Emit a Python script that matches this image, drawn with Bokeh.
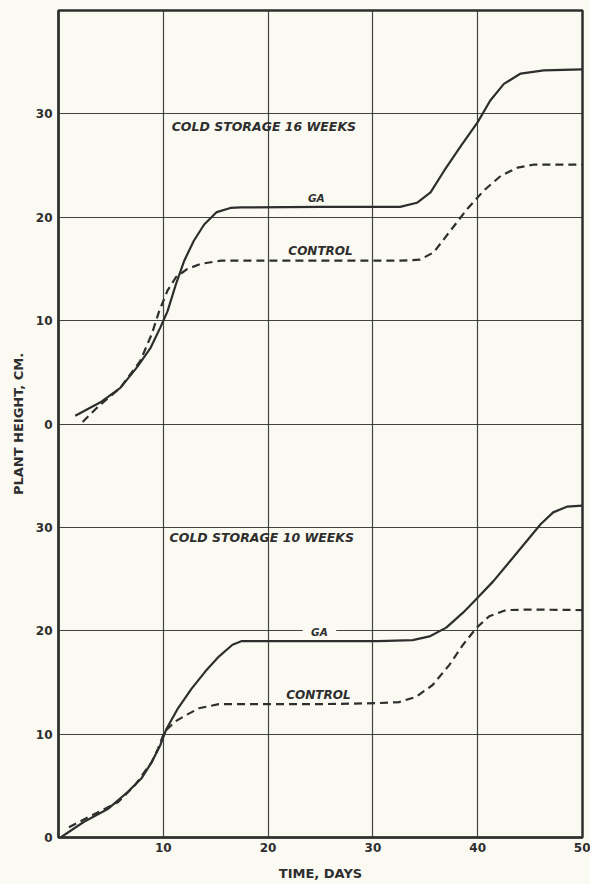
from bokeh.plotting import figure
from bokeh.models import Range1d, FixedTicker
from bokeh.core.properties import value
from bokeh.embed import file_html
from bokeh.resources import INLINE

# ---- data ----
# Upper panel: cold storage 16 weeks
ga16_days = [1.6, 4.0, 5.9, 7.5, 8.8, 9.7, 10.4, 11.2, 12.0, 12.9, 13.9, 15.1, 16.4, 17.4, 25.0, 32.6, 34.2, 35.5, 36.8, 38.4, 40.0, 41.2, 42.5, 44.1, 46.3, 50.0]
ga16_height = [0.8, 2.1, 3.5, 5.5, 7.4, 9.3, 10.9, 13.5, 15.8, 17.7, 19.3, 20.5, 20.9, 20.95, 21.0, 21.0, 21.4, 22.4, 24.5, 26.9, 29.2, 31.3, 32.9, 33.9, 34.2, 34.3]
ctl16_days = [2.3, 3.7, 5.9, 7.8, 8.9, 9.6, 10.4, 11.2, 12.3, 13.6, 15.5, 16.9, 25.0, 32.6, 34.5, 35.8, 37.4, 39.0, 40.6, 42.2, 43.8, 45.4, 50.0]
ctl16_height = [0.2, 1.6, 3.5, 6.1, 8.7, 10.9, 12.9, 14.2, 15.0, 15.5, 15.8, 15.8, 15.8, 15.8, 15.9, 16.6, 18.7, 20.8, 22.6, 24.0, 24.8, 25.1, 25.1]

# Lower panel: cold storage 10 weeks
ga10_days = [0.2, 2.4, 4.7, 6.6, 7.9, 8.9, 9.7, 10.3, 11.4, 12.7, 14.0, 15.3, 16.6, 17.5, 18.5, 25.0, 30.5, 33.8, 35.4, 37.0, 38.6, 39.9, 41.5, 43.1, 44.7, 46.0, 47.2, 48.5, 50.0]
ga10_height = [0.0, 1.5, 2.75, 4.4, 5.7, 7.3, 8.9, 10.5, 12.5, 14.4, 16.05, 17.5, 18.65, 19.0, 19.0, 19.0, 19.0, 19.1, 19.45, 20.3, 21.75, 23.1, 24.8, 26.75, 28.7, 30.3, 31.45, 32.0, 32.1]
ctl10_days = [1.0, 3.1, 5.65, 7.25, 8.9, 9.5, 10.1, 11.1, 12.1, 13.4, 15.3, 18.5, 25.0, 30.5, 32.5, 34.1, 35.7, 37.3, 38.6, 39.9, 41.1, 42.7, 45.0, 50.0]
ctl10_height = [1.0, 2.1, 3.4, 5.0, 7.3, 8.6, 10.2, 11.2, 11.8, 12.5, 12.9, 12.9, 12.9, 13.0, 13.1, 13.6, 14.75, 16.7, 18.65, 20.3, 21.4, 22.0, 22.05, 22.0]

x_ticks = [10, 20, 30, 40, 50]
panel_ticks = [0, 10, 20, 30]

upper_title = "COLD STORAGE 16 WEEKS"
lower_title = "COLD STORAGE 10 WEEKS"
series_names = ["GA", "CONTROL"]

# ---- styling ----
PAPER = "#fbfaf2"
INK = "#2e2e2e"
FONT = "DejaVu Sans"

p = figure(width=590, height=884, output_backend="svg", toolbar_location=None,
           x_range=Range1d(0, 50), y_range=Range1d(0, 80),
           min_border_left=58, min_border_right=8, min_border_top=10, min_border_bottom=47,
           background_fill_color=PAPER, border_fill_color=PAPER)
# upper panel has its own 0..40 scale stacked above the lower one
p.extra_y_ranges = {"upper": Range1d(-40, 40)}

all_y = panel_ticks + [t + 40 for t in panel_ticks]
p.yaxis.ticker = FixedTicker(ticks=all_y)
p.yaxis.major_label_overrides = {t + 40: str(t) for t in panel_ticks}
p.ygrid.ticker = FixedTicker(ticks=list(range(0, 81, 10)))
p.xaxis.ticker = FixedTicker(ticks=x_ticks)
p.xgrid.ticker = FixedTicker(ticks=list(range(0, 51, 10)))

for g in (p.xgrid, p.ygrid):
    g.grid_line_color = INK
    g.grid_line_width = 1.2
    g.grid_line_alpha = 0.9

p.outline_line_color = INK
p.outline_line_width = 2.5

for ax in (p.xaxis, p.yaxis):
    ax.axis_line_color = INK
    ax.axis_line_width = 2
    ax.major_tick_line_color = None
    ax.minor_tick_line_color = None
    ax.major_tick_out = 0
    ax.major_tick_in = 0
    ax.major_label_text_font = FONT
    ax.major_label_text_font_style = "bold"
    ax.major_label_text_font_size = "12px"
    ax.major_label_text_color = INK
    ax.axis_label_text_font = FONT
    ax.axis_label_text_font_style = "bold"
    ax.axis_label_text_font_size = "13px"
    ax.axis_label_text_color = INK

p.xaxis.axis_label = "TIME, DAYS"
p.xaxis.major_label_standoff = 5
p.xaxis.axis_label_standoff = 11
p.yaxis.axis_label = "PLANT HEIGHT, CM."
p.yaxis.major_label_standoff = 6
p.yaxis.axis_label_standoff = 7

# ---- curves ----
lk = dict(line_color=INK, line_width=2.2, line_join="round")
p.line(ga16_days, ga16_height, y_range_name="upper", **lk)
p.line(ctl16_days, ctl16_height, y_range_name="upper", line_dash="8 5", **lk)
p.line(ga10_days, ga10_height, **lk)
p.line(ctl10_days, ctl10_height, line_dash="8 5", **lk)

# ---- annotations ----
txt_kw = dict(text_font=value(FONT), text_font_style="bold italic", text_color=INK,
              text_baseline="middle")
p.text(x=[10.8], y=[28.8], text=[upper_title], y_range_name="upper",
       text_font_size="12.5px", text_align="left", **txt_kw)
p.text(x=[24.6], y=[21.9], text=[series_names[0]], y_range_name="upper",
       text_font_size="10.5px", text_align="center", **txt_kw)
p.text(x=[25.0], y=[16.7], text=[series_names[1]], y_range_name="upper",
       text_font_size="12px", text_align="center", **txt_kw)
p.text(x=[10.6], y=[29.0], text=[lower_title],
       text_font_size="12.5px", text_align="left", **txt_kw)
# GA label in lower panel sits on a gridline with a paper-coloured patch behind it
p.rect(x=[24.9], y=[19.9], width=3.2, height=1.2, fill_color=PAPER, line_color=None)
p.text(x=[24.9], y=[19.9], text=[series_names[0]],
       text_font_size="10.5px", text_align="center", **txt_kw)
p.text(x=[24.8], y=[13.8], text=[series_names[1]],
       text_font_size="12px", text_align="center", **txt_kw)

html = file_html(p, INLINE)
html = html.replace("<body>", '<body style="background:%s">' % PAPER)
open("out.html", "w").write(html)
